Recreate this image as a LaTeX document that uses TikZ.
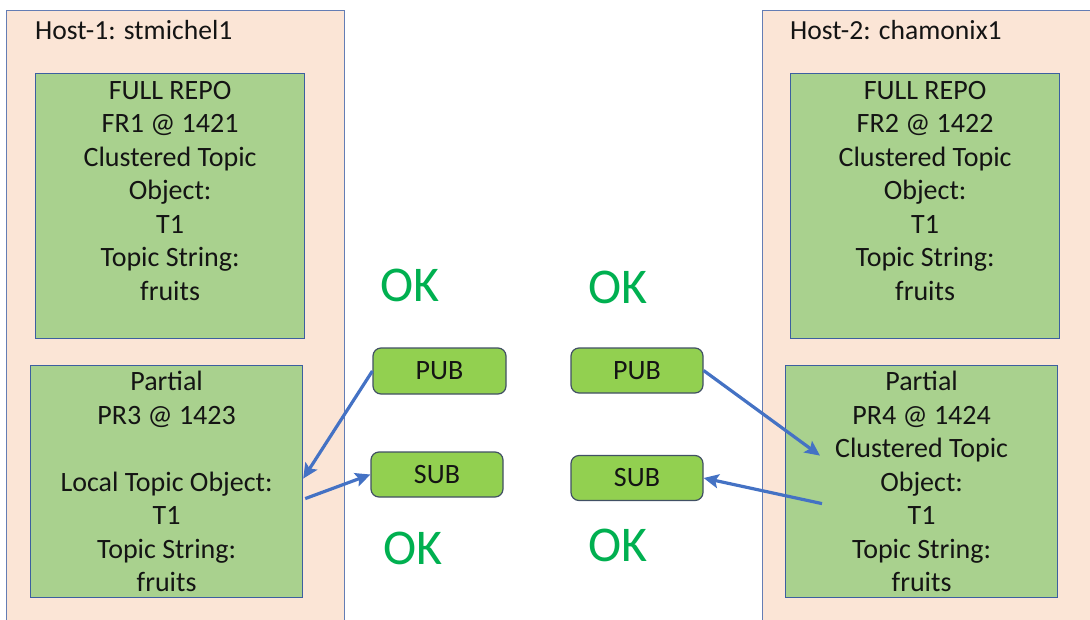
\documentclass[tikz,border=0pt]{standalone}
\usepackage{fontspec}
\setmainfont{Carlito}
\usetikzlibrary{calc,arrows.meta}
\definecolor{hostfill}{RGB}{251,229,214}
\definecolor{hostline}{RGB}{100,125,180}
\definecolor{repofill}{RGB}{169,209,142}
\definecolor{repoline}{RGB}{60,95,160}
\definecolor{psfill}{RGB}{146,208,80}
\definecolor{psline}{RGB}{65,80,100}
\definecolor{arrowblue}{RGB}{68,114,196}
\definecolor{okgreen}{RGB}{0,176,80}
\definecolor{txtcol}{RGB}{20,20,20}
\tikzset{
  host/.style={draw=hostline, fill=hostfill, line width=1pt, inner sep=0pt},
  repo/.style={draw=repoline, fill=repofill, line width=1.2pt, inner sep=0pt},
  psbox/.style={draw=psline, fill=psfill, line width=1.2pt, rounded corners=8pt,
    minimum height=45pt, inner sep=0pt, font=\fontsize{28}{32}\selectfont, text=txtcol},
  txt/.style={align=center, inner sep=0pt, text=txtcol, font=\fontsize{28}{33.5}\selectfont},
  title/.style={inner sep=0pt, text=txtcol, font=\fontsize{27.6}{32}\selectfont},
  ok/.style={inner sep=0pt, text=okgreen, font=\fontsize{50}{54}\selectfont},
  arr/.style={draw=arrowblue, line width=3.2pt, -{Stealth[length=15pt,width=14pt,inset=3pt]}}
}
\begin{document}
\begin{tikzpicture}[x=1pt,y=-1pt]
\useasboundingbox (0,0) rectangle (1090,619);
\clip (0,0) rectangle (1090,619);
% hosts
\node[host, anchor=north west, minimum width=338pt, minimum height=640pt] (h1) at (6,10) {};
\node[host, anchor=north west, minimum width=360pt, minimum height=640pt] (h2) at (762,10) {};
\node[title, anchor=west] (t1) at (35,30.5) {Host-1: stmichel1};
\node[title, anchor=west] (t2) at (790,30.5) {Host-2: chamonix1};
% repos
\node[repo, anchor=north west, minimum width=269pt, minimum height=265pt] (fr1) at (35,73) {};
\node[repo, anchor=north west, minimum width=269pt, minimum height=265pt] (fr2) at (790,73) {};
\node[repo, anchor=north west, minimum width=272pt, minimum height=232pt] (pr3) at (30,365) {};
\node[repo, anchor=north west, minimum width=272pt, minimum height=232pt] (pr4) at (785,365) {};
\node[txt, anchor=north] (fr1t) at ([yshift=-8pt]fr1.north) {FULL REPO\\FR1 @ 1421\\Clustered Topic\\Object:\\T1\\Topic String:\\fruits};
\node[txt, anchor=north] (fr2t) at ([yshift=-8pt]fr2.north) {FULL REPO\\FR2 @ 1422\\Clustered Topic\\Object:\\T1\\Topic String:\\fruits};
\node[txt, anchor=north] (pr3t) at ([yshift=-6pt]pr3.north) {Partial\\PR3 @ 1423\\[33.5pt]Local Topic Object:\\T1\\Topic String:\\fruits};
\node[txt, anchor=north] (pr4t) at ([yshift=-6pt]pr4.north) {Partial\\PR4 @ 1424\\Clustered Topic\\Object:\\T1\\Topic String:\\fruits};
% pub/sub
\node[psbox, minimum width=133pt, minimum height=46pt] (pub1) at (439.5,371) {PUB};
\node[psbox, minimum width=132pt] (sub1) at (437,474.5) {SUB};
\node[psbox, minimum width=132pt] (pub2) at (637,370.5) {PUB};
\node[psbox, minimum width=132pt] (sub2) at (637,478) {SUB};
% OK labels
\node[ok] (ok1) at (410,285) {OK};
\node[ok] (ok2) at (618,287) {OK};
\node[ok] (ok3) at (413,548) {OK};
\node[ok] (ok4) at (618,545) {OK};
% arrows
\draw[arr] (pub1.west) -- ($(pr3.east)+(0,-3)$);
\draw[arr] ($(pr3.east)+(2,17)$) -- (sub1.west);
\draw[arr] (pub2.east) -- ($(pr4.west)+(35,-26)$);
\draw[arr] ($(pr4.west)+(37,22)$) -- (sub2.east);
\end{tikzpicture}
\end{document}
